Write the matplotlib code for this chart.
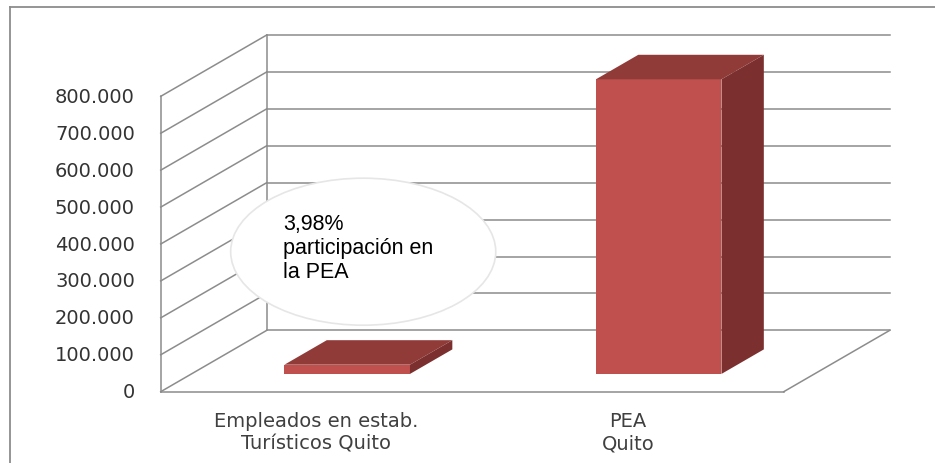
import matplotlib
matplotlib.use("Agg")
import matplotlib.pyplot as plt
from matplotlib.patches import Ellipse
from matplotlib.lines import Line2D

# datos
categorias = ["Empleados en estab.\nTurísticos Quito", "PEA\nQuito"]
valores = [25000, 798000]
ticks = [0, 100000, 200000, 300000, 400000, 500000, 600000, 700000, 800000]
tick_labels = ["0", "100.000", "200.000", "300.000", "400.000",
               "500.000", "600.000", "700.000", "800.000"]
nota = "3,98%\nparticipación en\nla PEA"

# efecto 3D (profundidad en unidades de categoria / valor)
DX = 0.340
DY = 166000
F0, F1 = 0.29, 0.69
ANCHO = 0.403

C_FRENTE = "#C0504D"
C_TOPE = "#913B38"
C_LADO = "#7B302F"
C_GRID = "#8C8C8C"

fig = plt.figure(figsize=(9.35, 4.64), dpi=100)
ax = fig.add_axes([0, 0, 1, 1])
ax.set_xlim(-1.016, 1.9856)
ax.set_ylim(-193120, 1063650)
ax.axis("off")

# marco exterior
fig.add_artist(Line2D([10 / 935, 10 / 935], [0, 1 - 8 / 464], color="#8C8C8C", lw=1.3))
fig.add_artist(Line2D([10 / 935, 1], [1 - 8 / 464, 1 - 8 / 464], color="#8C8C8C", lw=1.3))

x_izq = -0.5
x_der = len(categorias) - 0.5

# paredes y rejilla
for v in ticks:
    ax.plot([x_izq, x_izq + DX], [v, v + DY], color=C_GRID, lw=1.1, zorder=1)
    ax.plot([x_izq + DX, x_der + DX], [v + DY, v + DY], color=C_GRID, lw=1.1, zorder=1)
ax.plot([x_izq, x_izq], [0, ticks[-1]], color=C_GRID, lw=1.1, zorder=1)
ax.plot([x_izq + DX, x_izq + DX], [DY, ticks[-1] + DY], color=C_GRID, lw=1.1, zorder=1)
ax.plot([x_izq, x_der], [0, 0], color=C_GRID, lw=1.1, zorder=1)
ax.plot([x_der, x_der + DX], [0, DY], color=C_GRID, lw=1.1, zorder=1)

# etiquetas del eje y
for v, lab in zip(ticks, tick_labels):
    ax.text(x_izq - 0.083, v, lab, ha="right", va="center", fontsize=14,
            color="#333333", family="DejaVu Sans")

# barras 3D
for i, v in enumerate(valores):
    x0 = i - ANCHO / 2 + F0 * DX
    x1 = x0 + ANCHO
    y0 = F0 * DY
    y1 = y0 + v
    ddx = (F1 - F0) * DX
    ddy = (F1 - F0) * DY
    ax.fill([x0, x1, x1, x0], [y0, y0, y1, y1], color=C_FRENTE, lw=0, zorder=3)
    ax.fill([x0, x1, x1 + ddx, x0 + ddx], [y1, y1, y1 + ddy, y1 + ddy],
            color=C_TOPE, lw=0, zorder=3)
    ax.fill([x1, x1 + ddx, x1 + ddx, x1], [y0, y0 + ddy, y1 + ddy, y1],
            color=C_LADO, lw=0, zorder=3)

# etiquetas de categorias
for i, lab in enumerate(categorias):
    ax.text(i, -52000, lab, ha="center", va="top", fontsize=14,
            color="#404040", linespacing=1.22, family="DejaVu Sans")

# globo con la nota
elipse = Ellipse((0.150, 379200), 0.851, 398200, facecolor="white",
                 edgecolor="#E6E6E6", lw=1.2, zorder=4)
ax.add_patch(elipse)
ax.text(-0.1066, 391000, nota, ha="left", va="center", fontsize=15.5,
        color="black", linespacing=1.2, family="Liberation Sans", zorder=5)

fig.savefig("out.png", dpi=100)
